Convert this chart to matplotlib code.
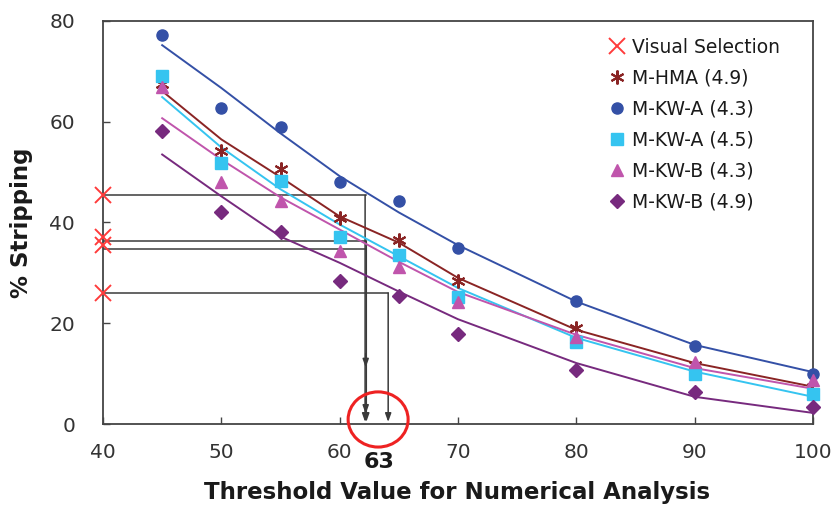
import matplotlib
matplotlib.use("Agg")
import matplotlib.pyplot as plt
from matplotlib.patches import Ellipse

plt.rcParams['font.family'] = ['DejaVu Sans']

# ---- data ----
x_pts = [45, 50, 55, 60, 65, 70, 80, 90, 100]
hma_49 = [67.5, 54.1, 50.7, 40.8, 36.6, 28.3, 19.0, 11.7, 7.4]
kwa_43 = [77.2, 62.7, 58.9, 48.1, 44.2, 35.0, 24.5, 15.5, 10.0]
kwa_45 = [69.1, 51.9, 48.2, 37.2, 33.6, 25.3, 16.3, 10.0, 6.0]
kwb_43 = [66.9, 48.0, 44.2, 34.3, 31.2, 24.2, 17.3, 12.3, 8.8]
kwb_49 = [58.1, 42.0, 38.2, 28.4, 25.5, 17.9, 10.7, 6.4, 3.4]

# trend lines
trend_x = [45, 50, 55, 60, 65, 70, 80, 90, 100]
trend_hma_49 = [66.1, 56.5, 49.0, 41.2, 36.0, 29.0, 18.7, 12.1, 7.4]
trend_kwa_43 = [75.2, 66.7, 57.7, 49.2, 42.0, 35.5, 24.3, 15.7, 10.3]
trend_kwa_45 = [64.9, 54.9, 46.6, 39.6, 33.3, 27.0, 17.1, 10.4, 5.4]
trend_kwb_43 = [60.7, 52.5, 45.0, 38.6, 32.2, 26.2, 17.7, 11.1, 7.0]
trend_kwb_49 = [53.5, 45.2, 37.2, 32.0, 26.3, 20.8, 12.1, 5.4, 2.2]

visual_x = [40, 40, 40, 40]
visual_y = [45.4, 37.2, 35.6, 26.0]
guide_y = [45.4, 36.3, 34.7, 26.0]
guide_x = [62.2, 62.2, 62.2, 64.1]
highlight_value = 63

x_ticks = [40, 50, 60, 70, 80, 90, 100]
y_ticks = [0, 20, 40, 60, 80]

# ---- figure ----
fig = plt.figure(figsize=(8.33, 5.07), dpi=100)
ax = fig.add_axes([103/833, 1-424/507, 710/833, 403/507])
ax.set_xlim(40, 100)
ax.set_ylim(0, 80)

c_red = '#ff3b3b'
c_hma = '#8a2424'
c_kwa43 = '#3450a6'
c_kwa45 = '#35c4f0'
c_kwb43 = '#c055ac'
c_kwb49 = '#772a7e'
c_line = '#3a3a3a'

arrow = dict(arrowstyle='-|>,head_length=0.5,head_width=0.18',
             color=c_line, lw=1.1, shrinkA=0, shrinkB=0)

# guide lines
for gy, gx in zip(guide_y, guide_x):
    ax.plot([40, gx], [gy, gy], color=c_line, lw=1.1, zorder=2)
for gy, gx in zip([guide_y[0], guide_y[1], guide_y[3]],
                  [guide_x[0] - 0.05, guide_x[1] + 0.05, guide_x[3]]):
    ax.annotate('', xy=(gx, 0.4), xytext=(gx, gy), arrowprops=arrow, zorder=2)
ax.annotate('', xy=(guide_x[0], 11.2), xytext=(guide_x[0], 14.0), arrowprops=arrow, zorder=2)
ax.annotate('', xy=(guide_x[0], 2.0), xytext=(guide_x[0], 5.0), arrowprops=arrow, zorder=2)

# trend lines
ax.plot(trend_x, trend_kwa_43, color=c_kwa43, lw=1.4, zorder=3)
ax.plot(trend_x, trend_hma_49, color=c_hma, lw=1.4, zorder=3)
ax.plot(trend_x, trend_kwa_45, color=c_kwa45, lw=1.4, zorder=3)
ax.plot(trend_x, trend_kwb_43, color=c_kwb43, lw=1.4, zorder=3)
ax.plot(trend_x, trend_kwb_49, color=c_kwb49, lw=1.4, zorder=3)

# markers
ax.plot(visual_x, visual_y, ls='none', marker='x', ms=11, mew=1.4, color=c_red,
        clip_on=False, zorder=5, label='Visual Selection')
ax.plot(x_pts, hma_49, ls='none', marker=(6, 2, 0), ms=10, mew=1.5, color=c_hma,
        zorder=4, label='M-HMA (4.9)')
ax.plot(x_pts, kwa_43, ls='none', marker='o', ms=8, color=c_kwa43, clip_on=False,
        zorder=4, label='M-KW-A (4.3)')
ax.plot(x_pts, kwa_45, ls='none', marker='s', ms=8, color=c_kwa45, clip_on=False,
        zorder=4, label='M-KW-A (4.5)')
ax.plot(x_pts, kwb_43, ls='none', marker='^', ms=9, color=c_kwb43, clip_on=False,
        zorder=4, label='M-KW-B (4.3)')
ax.plot(x_pts, kwb_49, ls='none', marker='D', ms=7, color=c_kwb49, clip_on=False,
        zorder=4, label='M-KW-B (4.9)')

# highlight circle and label
ell = Ellipse((63.25, 0.9), width=5.07, height=10.95, transform=ax.transData,
              fill=False, ec='#ee2222', lw=2.2, clip_on=False, zorder=6)
ax.add_patch(ell)
ax.text(63.35, -7.5, str(highlight_value), ha='center', va='center', fontsize=16,
        fontweight='bold', color='#1a1a1a', clip_on=False)

# axes styling
for s in ax.spines.values():
    s.set_color('#444444')
    s.set_linewidth(1.3)
ax.set_xticks(x_ticks)
ax.set_yticks(y_ticks)
ax.tick_params(direction='in', length=5, width=1, colors='#444444',
               labelsize=14.5, labelcolor='#333333')
ax.tick_params(axis='y', pad=20)
ax.tick_params(axis='x', pad=14)
ax.set_xlabel('Threshold Value for Numerical Analysis', fontsize=16.5, fontweight='bold',
              color='#1a1a1a')
ax.xaxis.set_label_coords(0.4986, -0.142)
ax.set_ylabel('% Stripping', fontsize=16.5, fontweight='bold', color='#1a1a1a')
ax.yaxis.set_label_coords(-0.099, 0.499)

leg = ax.legend(loc='upper left', bbox_to_anchor=(0.711, 0.958), frameon=False,
                fontsize=13.5, handlelength=1.0, handletextpad=0.3, labelspacing=0.64,
                borderaxespad=0, borderpad=0)
for t in leg.get_texts():
    t.set_color('#1a1a1a')

fig.savefig('out.png', dpi=100)
